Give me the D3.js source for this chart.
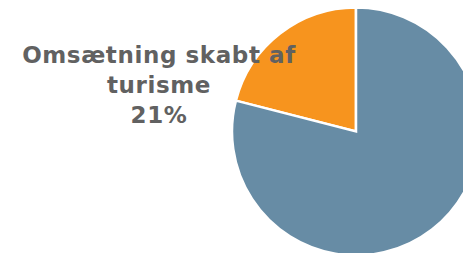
<!DOCTYPE html>
<html><head><meta charset="utf-8">
<script src="https://cdn.jsdelivr.net/npm/d3@7"></script>
<style>html,body{margin:0;padding:0;background:#fff;overflow:hidden}</style>
</head><body>
<script>
const categories = ["Omsætning skabt af turisme", "Øvrig omsætning"];
const values = [21, 79];
const colors = ["#F7941E", "#678CA5"];
const labelLines = ["Omsætning skabt af", "turisme", "21%"];

const W = 463, H = 253;
const svg = d3.select("body").append("svg").attr("width", W).attr("height", H);
const cx = 356, cy = 131.5, r = 124;
const pie = d3.pie().sort(null).value(d => d)
  .startAngle(-2 * Math.PI * values[0] / 100).endAngle(2 * Math.PI - 2 * Math.PI * values[0] / 100);
const arc = d3.arc().innerRadius(0).outerRadius(r);
const g = svg.append("g").attr("transform", `translate(${cx},${cy})`);
g.selectAll("path").data(pie(values)).join("path")
  .attr("d", arc).attr("fill", (d, i) => colors[i])
  .attr("stroke", "#fff").attr("stroke-width", 2.5).attr("stroke-linejoin", "miter");

const t = svg.append("text").attr("text-anchor", "middle")
  .attr("font-family", "DejaVu Sans, Verdana, sans-serif").attr("font-weight", "bold")
  .attr("font-size", 23).attr("letter-spacing", 0.6).attr("fill", "#616161");
labelLines.forEach((s, i) => t.append("tspan").attr("x", 159).attr("y", 63 + i * 30).text(s));
</script>
</body></html>
